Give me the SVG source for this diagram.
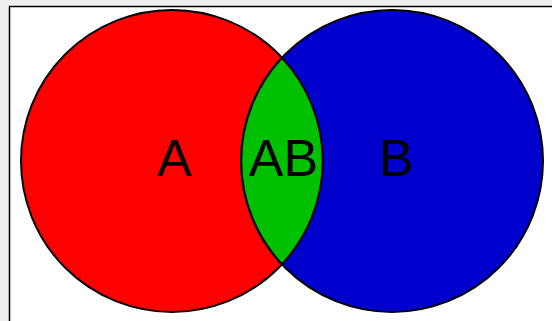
<svg xmlns="http://www.w3.org/2000/svg" width="552" height="321" viewBox="0 0 552 321">
  <style>
    .set { stroke: #000; stroke-width: 2; }
    .lbl { font-family: "Liberation Sans", Arial, sans-serif; font-size: 52px; fill: #000; text-anchor: middle; }
  </style>
  <rect x="0" y="0" width="552" height="321" fill="#efefef"/>
  <rect x="9.5" y="6.5" width="560" height="330" fill="#fff" stroke="#000" stroke-width="1.5"/>
  <g id="setA">
    <circle class="set" cx="172" cy="161" r="151" fill="#ff0000"/>
  </g>
  <g id="setB">
    <circle class="set" cx="392" cy="161" r="151" fill="#0000cc"/>
  </g>
  <g id="setAB">
    <path class="set" fill="#00c000" d="M 282 57.8 A 151 151 0 0 1 282 264.2 A 151 151 0 0 1 282 57.8 Z"/>
  </g>
  <g id="labels">
    <text class="lbl" x="174.5" y="176">A</text>
    <text class="lbl" x="283.5" y="176">AB</text>
    <text class="lbl" x="396" y="176">B</text>
  </g>
</svg>
